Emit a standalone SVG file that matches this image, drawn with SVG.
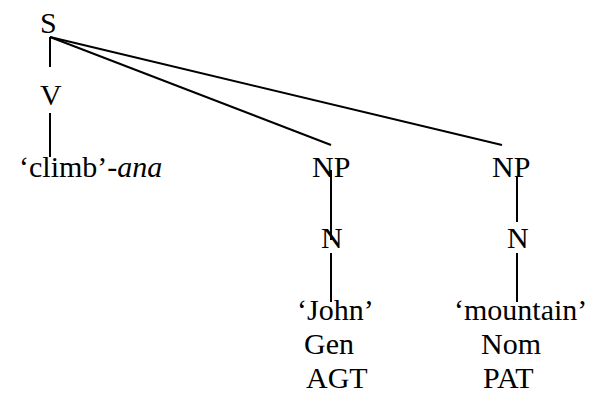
<svg xmlns="http://www.w3.org/2000/svg" width="591" height="394" viewBox="0 0 591 394">
  <defs>
    <style>
      .edge { stroke: #000; stroke-width: 2; fill: none; }
    </style>
  </defs>
  <rect width="591" height="394" fill="#fff"/>
  <g id="connectors">
    <line class="edge" x1="50" y1="37" x2="50" y2="67"/>
    <line class="edge" x1="50" y1="113" x2="50" y2="157"/>
    <line class="edge" x1="50" y1="37" x2="331" y2="145"/>
    <line class="edge" x1="50" y1="37" x2="502" y2="145"/>
    <line class="edge" x1="331" y1="170" x2="331" y2="240"/>
    <line class="edge" x1="331" y1="253" x2="331" y2="302"/>
    <line class="edge" x1="517" y1="176" x2="517" y2="222"/>
    <line class="edge" x1="517" y1="253" x2="517" y2="302"/>
  </g>
  <g font-family="'Liberation Serif', 'Times New Roman', serif" font-size="30" fill="#000">
    <g id="node-S"><text x="40" y="33">S</text></g>
    <g id="node-V"><text x="40" y="105">V</text></g>
    <g id="node-climb"><text x="19" y="177">‘climb’-<tspan font-style="italic">ana</tspan></text></g>
    <g id="node-NP1"><text x="312" y="177">NP</text></g>
    <g id="node-N1"><text x="321" y="248">N</text></g>
    <g id="node-john">
      <text x="297" y="320">‘John’</text>
      <text x="304" y="354">Gen</text>
      <text x="306" y="388">AGT</text>
    </g>
    <g id="node-NP2"><text x="492" y="177">NP</text></g>
    <g id="node-N2"><text x="507" y="248">N</text></g>
    <g id="node-mountain">
      <text x="454" y="320">‘mountain’</text>
      <text x="481" y="354">Nom</text>
      <text x="483" y="388">PAT</text>
    </g>
  </g>
</svg>
